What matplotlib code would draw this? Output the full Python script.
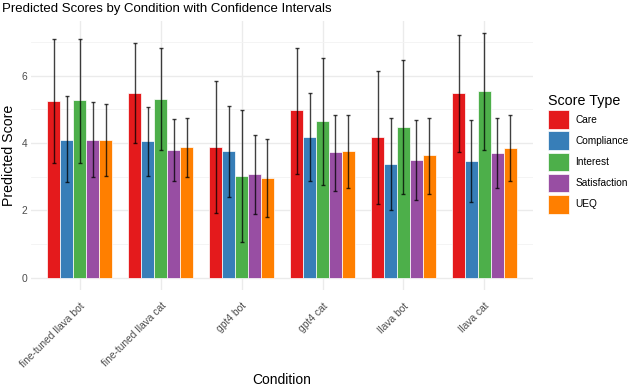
import numpy as np
import matplotlib
matplotlib.use("Agg")
from matplotlib import pyplot as plt
from matplotlib.patches import Patch

plt.rcParams['font.family'] = ['Liberation Sans', 'DejaVu Sans']

conditions = ["fine-tuned llava bot", "fine-tuned llava cat", "gpt4 bot",
              "gpt4 cat", "llava bot", "llava cat"]
score_types = ["Care", "Compliance", "Interest", "Satisfaction", "UEQ"]
colors = ["#E41A1C", "#377EB8", "#4DAF4A", "#984EA3", "#FF7F00"]

# predicted score, one list per score type, one entry per condition
care = [5.23, 5.48, 3.89, 4.99, 4.18, 5.47]
compliance = [4.10, 4.06, 3.77, 4.18, 3.38, 3.46]
interest = [5.26, 5.31, 3.02, 4.64, 4.47, 5.54]
satisfaction = [4.10, 3.80, 3.09, 3.72, 3.50, 3.69]
ueq = [4.08, 3.89, 2.97, 3.75, 3.64, 3.86]

# lower / upper confidence limits
care_lo = [3.40, 3.99, 1.92, 3.08, 2.19, 3.74]
care_hi = [7.09, 6.98, 5.84, 6.83, 6.14, 7.20]
compliance_lo = [2.84, 3.01, 2.39, 2.87, 2.01, 2.26]
compliance_hi = [5.38, 5.08, 5.11, 5.48, 4.75, 4.67]
interest_lo = [3.40, 3.79, 1.06, 2.74, 2.48, 3.79]
interest_hi = [7.09, 6.81, 4.99, 6.51, 6.45, 7.26]
satisfaction_lo = [2.98, 2.87, 1.90, 2.57, 2.31, 2.65]
satisfaction_hi = [5.20, 4.72, 4.24, 4.83, 4.69, 4.74]
ueq_lo = [3.01, 2.99, 1.80, 2.65, 2.48, 2.86]
ueq_hi = [5.14, 4.74, 4.12, 4.82, 4.75, 4.83]

values = [care, compliance, interest, satisfaction, ueq]
lows = [care_lo, compliance_lo, interest_lo, satisfaction_lo, ueq_lo]
highs = [care_hi, compliance_hi, interest_hi, satisfaction_hi, ueq_hi]

fig = plt.figure(figsize=(6.36, 3.86), dpi=100)
ax = fig.add_axes([0.049, 0.249, 0.789, 0.697])

x = np.arange(1, len(conditions) + 1)
dodge = 0.8
w = dodge / len(score_types)
for i, (vals, lo, hi) in enumerate(zip(values, lows, highs)):
    pos = x - dodge / 2 + w / 2 + i * w
    vals = np.array(vals)
    ax.bar(pos, vals, width=w, color=colors[i], edgecolor="white",
           linewidth=0.5, zorder=2)
    err = [vals - np.array(lo), np.array(hi) - vals]
    ax.errorbar(pos, vals, yerr=err, fmt="none", ecolor="black", alpha=0.75,
                elinewidth=1.0, capsize=1.6, capthick=1.0, zorder=3)

ymax = 7.26
ax.set_ylim(-0.05 * ymax, ymax * 1.05)
ax.set_xlim(0.4, 6.6)
ax.set_yticks([0, 2, 4, 6])
ax.set_yticks([1, 3, 5, 7], minor=True)
ax.set_xticks(x)
ax.set_xticklabels(conditions, rotation=45, ha="right", rotation_mode="anchor")
ax.tick_params(axis="both", which="both", length=0, labelsize=7.4,
               labelcolor="#4D4D4D")
ax.tick_params(axis="x", pad=8)
ax.tick_params(axis="y", pad=3)
ax.grid(True, which="major", color="#EBEBEB", linewidth=1.0, zorder=0)
ax.grid(True, which="minor", axis="y", color="#F3F3F3", linewidth=0.6, zorder=0)
for s in ax.spines.values():
    s.set_visible(False)
ax.set_axisbelow(True)

ax.set_xlabel("Condition", fontsize=10, va="center")
ax.xaxis.set_label_coords(0.5, -0.335)
ax.set_ylabel("Predicted Score", fontsize=10.2, va="center")
ax.yaxis.set_label_coords(-0.045, 0.5)
fig.text(0.003, 0.993, "Predicted Scores by Condition with Confidence Intervals",
         fontsize=9.5, ha="left", va="top")

handles = [Patch(facecolor=c, edgecolor="white", linewidth=0.5) for c in colors]
leg = fig.legend(handles, score_types, title="Score Type",
                 loc="upper left", bbox_to_anchor=(0.862, 0.757),
                 frameon=False, fontsize=7.3, title_fontsize=10.3,
                 handlelength=2.0, handleheight=2.45, handletextpad=0.7,
                 labelspacing=0.25, borderaxespad=0, borderpad=0)
leg._legend_box.align = "left"

fig.savefig("out.png", dpi=100)
